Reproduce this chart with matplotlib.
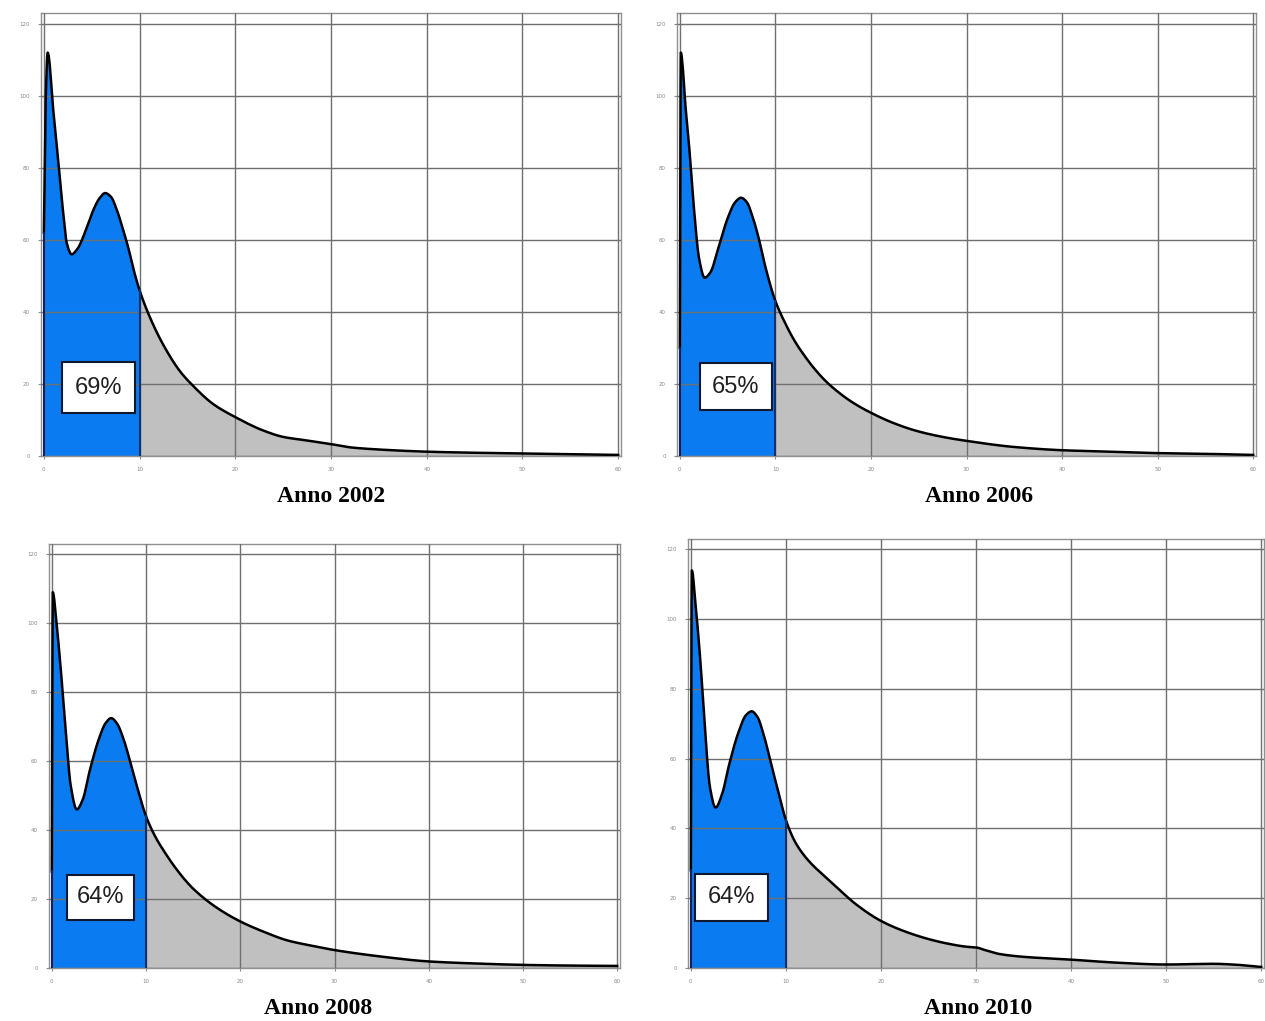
import numpy as np
import matplotlib
matplotlib.use("Agg")
from matplotlib import pyplot as plt
from matplotlib.patches import Rectangle

# values (x = class, y = frequency)
x_2002 = [0, 0.2, 0.4, 1.0, 1.5, 2.0, 2.4, 2.9, 3.5, 4.5, 5.2, 5.8, 6.4, 7.0, 7.6, 8.2, 8.8, 9.4, 10, 11, 12.45, 14.2, 15.4, 17.7, 20, 22.9, 25, 27.5, 30, 32, 35, 40, 45, 50, 55, 60]
y_2002 = [62, 100, 112, 95.5, 82, 68, 59, 56, 57.5, 63.5, 68.5, 71.5, 73, 72, 68.5, 63.5, 58, 51.5, 46, 39, 31, 23.6, 20, 14.4, 10.8, 7.1, 5.3, 4.3, 3.3, 2.4, 1.8, 1.2, 0.9, 0.7, 0.5, 0.3]

x_2006 = [0, 0.1, 0.3, 0.5, 1, 1.5, 2, 2.6, 3.2, 4, 5, 5.8, 6.4, 7, 7.6, 8.2, 9, 10, 11, 12, 13, 14, 15, 16, 18, 20, 22.5, 25, 27.5, 30, 35, 40, 45, 50, 55, 60]
y_2006 = [30, 112, 108, 100, 85, 68, 55, 49.5, 51, 57.5, 66, 70.5, 71.7, 70.5, 66.5, 61, 52, 43, 37, 32, 28, 24.5, 21.5, 19, 15, 12, 9, 6.8, 5.3, 4.2, 2.5, 1.6, 1.2, 0.8, 0.6, 0.3]

x_2008 = [0, 0.1, 0.5, 1, 1.5, 2, 2.65, 3.3, 4, 5, 5.7, 6.3, 6.9, 7.6, 8.3, 9, 10, 11, 12, 13, 14, 15, 17.5, 20, 22.5, 25, 27.5, 30, 35, 40, 45, 50, 55, 60]
y_2008 = [28, 109, 100, 85, 68, 53, 46, 49, 57, 66.5, 71, 72.5, 71, 66.5, 60, 53, 44, 38, 33.5, 29.5, 26, 23, 17.5, 13.5, 10.5, 8, 6.5, 5.2, 3.3, 1.9, 1.3, 0.9, 0.7, 0.6]

x_2010 = [0, 0.1, 0.5, 1, 1.5, 2, 2.6, 3.3, 4, 5, 5.8, 6.4, 7, 7.7, 8.4, 9.2, 10, 11, 12, 13, 14, 15, 17.5, 20, 22.5, 25, 27, 29, 30, 31, 32.5, 35, 40, 45, 50, 55, 57, 60]
y_2010 = [28, 114, 104, 88, 68, 52, 46, 50, 58, 67.5, 72.5, 73.6, 72, 66.5, 59, 50.5, 42.4, 36, 32, 29, 26.5, 24, 18, 13.5, 10.5, 8.3, 7, 6.1, 5.9, 5.1, 4.0, 3.2, 2.4, 1.5, 1, 1.2, 1, 0.3]

years = ["Anno 2002", "Anno 2006", "Anno 2008", "Anno 2010"]
shares = ["69%", "65%", "64%", "64%"]
series = [(x_2002, y_2002), (x_2006, y_2006), (x_2008, y_2008), (x_2010, y_2010)]


def smooth(x, y, xf):
    # monotone cubic (Fritsch-Carlson) drawing of the read points
    x = np.asarray(x, float)
    y = np.asarray(y, float)
    h = np.diff(x)
    d = np.diff(y) / h
    m = np.zeros_like(y)
    m[0], m[-1] = d[0], d[-1]
    for k in range(1, len(x) - 1):
        if d[k - 1] * d[k] > 0:
            w1 = 2 * h[k] + h[k - 1]
            w2 = h[k] + 2 * h[k - 1]
            m[k] = (w1 + w2) / (w1 / d[k - 1] + w2 / d[k])
    idx = np.clip(np.searchsorted(x, xf) - 1, 0, len(x) - 2)
    t = (xf - x[idx]) / h[idx]
    h00 = 2 * t**3 - 3 * t**2 + 1
    h10 = t**3 - 2 * t**2 + t
    h01 = -2 * t**3 + 3 * t**2
    h11 = t**3 - t**2
    return h00 * y[idx] + h10 * h[idx] * m[idx] + h01 * y[idx + 1] + h11 * h[idx] * m[idx + 1]


W, H = 1265, 1021
fig = plt.figure(figsize=(W / 100, H / 100), dpi=100)

# axes boxes in pixels: left, top, right, bottom
boxes = [(41, 13, 621, 456), (677, 13, 1256, 456), (49, 544, 620, 968), (688, 539, 1264, 968)]
# label box (data coords): x0, x1, y0, y1
label_boxes = [(1.9, 9.5, 12, 26), (2.1, 9.6, 12.7, 25.8), (1.6, 8.7, 14, 27), (0.4, 8.1, 13.5, 27)]
title_pos = [(331, 497), (979, 497), (318, 1008), (978, 1008)]

blue = '#0a7bf0'
gray = '#c0c0c0'

for i in range(4):
    l, t, r, b = boxes[i]
    ax = fig.add_axes([l / W, 1 - b / H, (r - l) / W, (b - t) / H])
    x, y = series[i]

    xf = np.linspace(0, 60, 2401)
    yf = smooth(x, y, xf)
    y10 = smooth(x, y, np.array([10.0]))[0]
    ax.fill_between(xf, 0, yf, where=xf <= 10, color=blue, lw=0, zorder=2)
    ax.fill_between(xf, 0, yf, where=xf >= 10, color=gray, lw=0, zorder=2)
    ax.plot(xf, yf, color='black', lw=1.8, zorder=4, solid_joinstyle='round')
    ax.plot([0, 0], [0, yf[0]], color='#102060', lw=1.5, zorder=4)
    ax.plot([10, 10], [0, y10], color='#103070', lw=1.5, zorder=4)

    ax.set_xlim(-0.3, 60.3)
    ax.set_ylim(0, 123)
    ax.set_xticks(range(0, 61, 10))
    ax.set_yticks(range(0, 121, 20))
    ax.grid(True, color='#707070', lw=1, zorder=3)
    ax.set_axisbelow(False)
    for s in ax.spines.values():
        s.set_color('#909090')
        s.set_linewidth(1)
    ax.tick_params(labelsize=4, colors='#888888', length=2, width=0.8, pad=6)

    x0, x1, y0, y1 = label_boxes[i]
    ax.add_patch(Rectangle((x0, y0), x1 - x0, y1 - y0, facecolor='white',
                           edgecolor='#101830', lw=1.5, zorder=5))
    ax.text((x0 + x1) / 2, (y0 + y1) / 2, shares[i], ha='center', va='center',
            fontsize=17, family='Liberation Sans', color='#202020', zorder=6)

    fig.text(title_pos[i][0] / W, 1 - title_pos[i][1] / H, years[i], ha='center', va='center',
             fontsize=17, family='Liberation Serif', weight='bold')

plt.savefig('out.png', dpi=100)
